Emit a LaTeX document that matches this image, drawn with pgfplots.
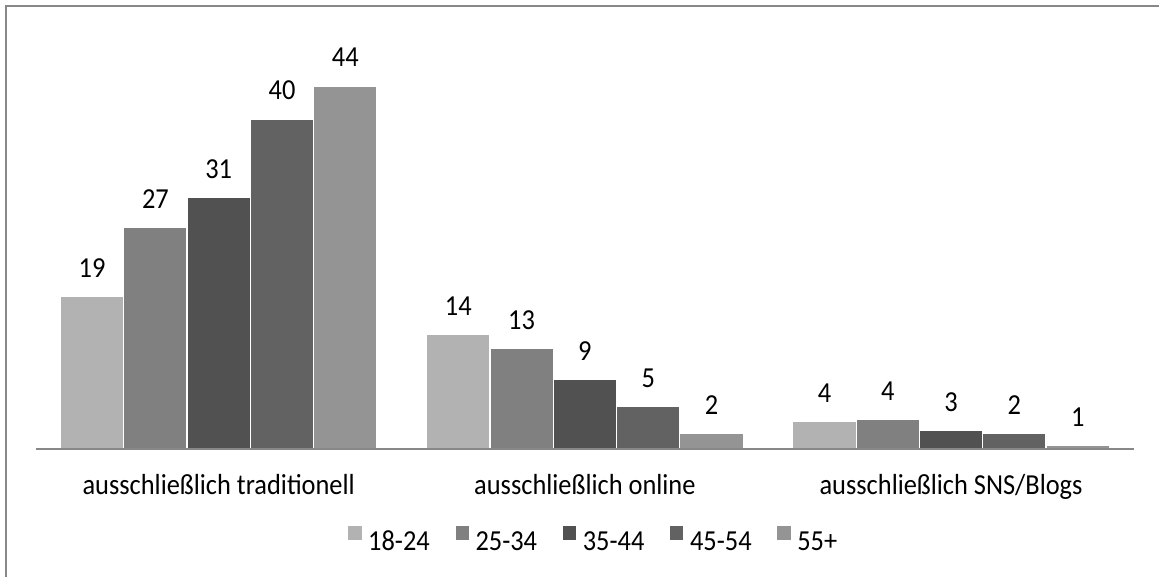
\documentclass[border=0pt]{standalone}
\usepackage{fontspec}
\setmainfont{Carlito}[FakeStretch=0.91]
\usepackage{pgfplots}
\pgfplotsset{compat=1.18}
\definecolor{cA}{HTML}{B2B2B2}
\definecolor{cB}{HTML}{808080}
\definecolor{cC}{HTML}{515151}
\definecolor{cD}{HTML}{626262}
\definecolor{cE}{HTML}{949494}
\definecolor{cLine}{HTML}{888888}
\newcommand{\chartfont}{\fontsize{29}{34}\selectfont}
\begin{document}
\begin{tikzpicture}[x=1pt,y=1pt]
\useasboundingbox (0,0) rectangle (1159,576);
\draw[cLine, line width=2pt] (6,-5) -- (6,570) -- (1165,570);
\begin{axis}[
  at={(35.6pt,127pt)}, anchor=south west,
  scale only axis, width=1098.6pt, height=412.5pt,
  xmin=-0.5, xmax=2.5, ymin=0, ymax=50,
  axis on top,
  axis y line=none, axis x line*=bottom,
  x axis line style={-, draw=cLine, line width=1.8pt},
  xtick={0,1,2},
  xticklabels={ausschließlich traditionell, ausschließlich online, ausschließlich SNS/Blogs},
  major tick length=0pt,
  xticklabel style={anchor=base, yshift=-45pt, inner sep=0pt, font=\chartfont, text=black},
  ybar, bar width=63.3pt,
  nodes near coords, point meta=explicit symbolic,
  every node near coord/.append style={anchor=base, yshift=19pt, inner sep=0pt, font=\chartfont, text=black},
  legend columns=-1,
  legend style={draw=none, fill=none, at={(0.5102,-0.219)}, anchor=center, font=\chartfont,
    /tikz/every even column/.append style={column sep=19pt},
    nodes={inner xsep=6.7pt, inner ysep=0pt}},
  legend image code/.code={\fill[#1,draw=none] (0pt,2pt) rectangle (13.3pt,15.3pt);},
]
\addplot[fill=cA, draw=white, line width=1.2pt, bar shift=-126.6pt]
  coordinates {(0,18.5) [19] (1,13.9) [14] (2,3.3) [4]};
\addlegendentry{18-24}
\addplot[fill=cB, draw=white, line width=1.2pt, bar shift=-63.3pt]
  coordinates {(0,26.8) [27] (1,12.2) [13] (2,3.6) [4]};
\addlegendentry{25-34}
\addplot[fill=cC, draw=white, line width=1.2pt, bar shift=0pt]
  coordinates {(0,30.5) [31] (1,8.4) [9] (2,2.2) [3]};
\addlegendentry{35-44}
\addplot[fill=cD, draw=white, line width=1.2pt, bar shift=63.3pt]
  coordinates {(0,40) [40] (1,5.2) [5] (2,1.9) [2]};
\addlegendentry{45-54}
\addplot[fill=cE, draw=white, line width=1.2pt, bar shift=126.6pt]
  coordinates {(0,44) [44] (1,1.9) [2] (2,0.4) [1]};
\addlegendentry{55+}
\end{axis}
\end{tikzpicture}
\end{document}
